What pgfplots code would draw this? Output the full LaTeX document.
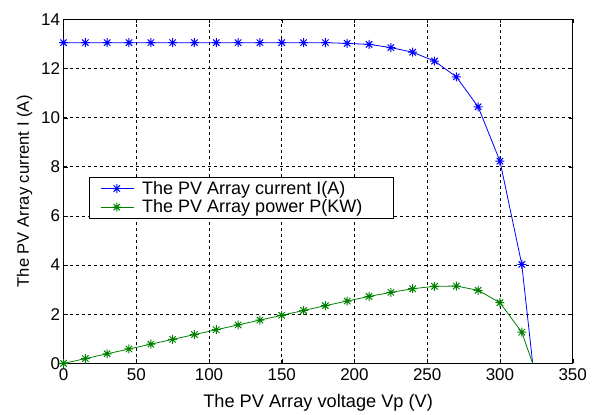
\documentclass[border=0pt]{standalone}
\usepackage{pgfplots}
\pgfplotsset{compat=1.18}
\usepackage{fontspec}
\setmainfont{Liberation Sans}
\definecolor{mgreen}{RGB}{0,128,0}
\pgfdeclareplotmark{mstar}{%
  \pgfpathmoveto{\pgfqpoint{-\pgfplotmarksize}{0pt}}\pgfpathlineto{\pgfqpoint{\pgfplotmarksize}{0pt}}%
  \pgfpathmoveto{\pgfqpoint{0pt}{-\pgfplotmarksize}}\pgfpathlineto{\pgfqpoint{0pt}{\pgfplotmarksize}}%
  \pgfpathmoveto{\pgfqpoint{-0.7071\pgfplotmarksize}{-0.7071\pgfplotmarksize}}\pgfpathlineto{\pgfqpoint{0.7071\pgfplotmarksize}{0.7071\pgfplotmarksize}}%
  \pgfpathmoveto{\pgfqpoint{-0.7071\pgfplotmarksize}{0.7071\pgfplotmarksize}}\pgfpathlineto{\pgfqpoint{0.7071\pgfplotmarksize}{-0.7071\pgfplotmarksize}}%
  \pgfusepathqstroke}
\begin{document}
\begin{tikzpicture}
\begin{axis}[
  scale only axis, width=509bp, height=344bp,
  xmin=0, xmax=350, ymin=0, ymax=14,
  xtick={0,50,...,350}, ytick={0,2,...,14},
  grid=major,
  major grid style={black, dashed, line width=0.6pt, dash pattern=on 3bp off 3bp},
  axis line style={black, line width=0.8pt},
  tick style={black},
  tick align=inside,
  major tick length=4bp,
  tick label style={font=\fontsize{17bp}{19bp}\selectfont},
  xticklabel style={yshift=-2bp},
  /pgf/number format/assume math mode=true,
  xlabel={The PV Array voltage Vp (V)},
  ylabel={The PV Array current I (A)},
  xlabel style={font=\fontsize{18.2bp}{20bp}\selectfont, yshift=-6bp},
  ylabel style={font=\fontsize{16.6bp}{18bp}\selectfont, yshift=2bp},
  legend style={at={(0.050,0.542)}, anchor=north west, draw=black, line width=0.8pt,
    font=\fontsize{18bp}{20bp}\selectfont, inner xsep=11bp, inner ysep=2bp, row sep=0bp},
  legend cell align=left,
  legend image code/.code={\draw[#1, mark indices={2}] plot coordinates {(0bp,0bp) (16bp,0bp) (33bp,0bp)};},
  every axis plot/.append style={line width=0.8pt},
]
\addplot[blue, mark=mstar, mark size=4.5bp, mark options={line width=1pt}, mark indices={1,2,3,4,5,6,7,8,9,10,11,12,13,14,15,16,17,18,19,20,21,22}] coordinates {
(0,13.05) (15,13.05) (30,13.05) (45,13.05) (60,13.05) (75,13.05) (90,13.05)
(105,13.05) (120,13.05) (135,13.05) (150,13.05) (165,13.05) (180,13.05)
(195,13.02) (210,12.98) (225,12.85) (240,12.66) (255,12.30) (270,11.66)
(285,10.44) (300,8.23) (315,4.03) (322.5,0)
};
\addlegendentry{\hspace*{6bp}The PV Array current I(A)}
\addplot[mgreen, mark=mstar, mark size=4.5bp, mark options={line width=1pt}, mark indices={1,2,3,4,5,6,7,8,9,10,11,12,13,14,15,16,17,18,19,20,21,22}] coordinates {
(0,0) (15,0.196) (30,0.392) (45,0.587) (60,0.783) (75,0.979) (90,1.175)
(105,1.370) (120,1.566) (135,1.762) (150,1.958) (165,2.153) (180,2.349)
(195,2.539) (210,2.726) (225,2.891) (240,3.038) (255,3.137) (270,3.148)
(285,2.975) (300,2.469) (315,1.269) (322.5,0)
};
\addlegendentry{\hspace*{6bp}The PV Array power P(KW)\hspace*{18bp}\rule{0pt}{0pt}}
\end{axis}
\path ([xshift=-63.5bp,yshift=-45.7bp]current axis.south west) rectangle ([xshift=22.3bp,yshift=19.3bp]current axis.north east);
\end{tikzpicture}
\end{document}
